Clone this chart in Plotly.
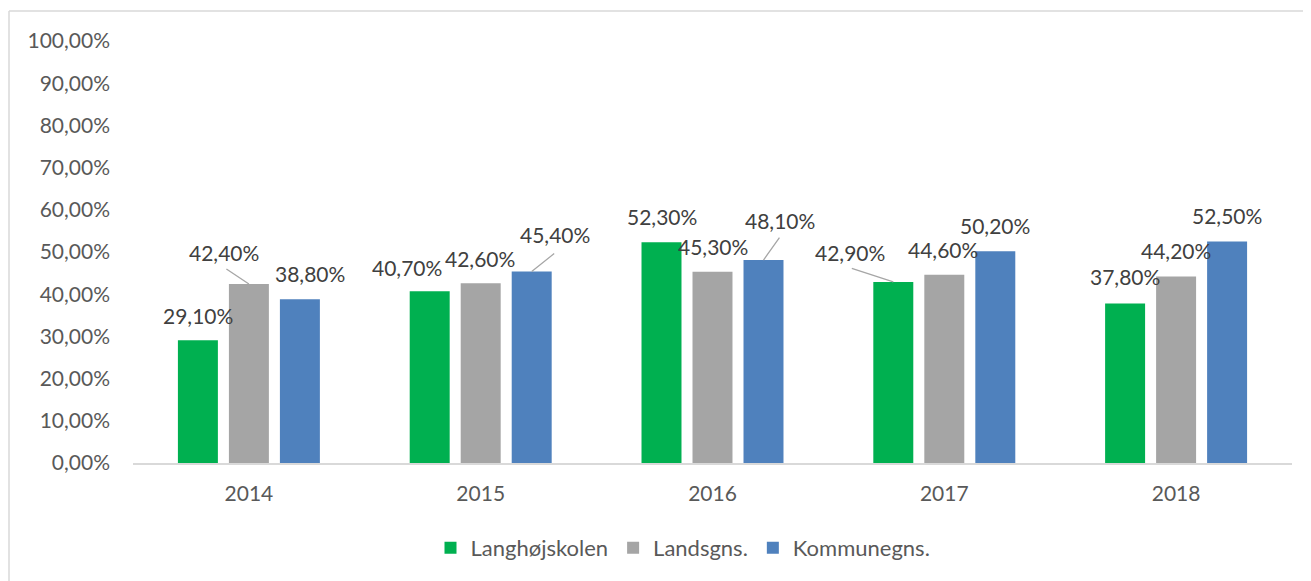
import plotly.graph_objects as go

# ---- data ----
years = ["2014", "2015", "2016", "2017", "2018"]
langhoj = [0.291, 0.407, 0.523, 0.429, 0.378]
landsgns = [0.424, 0.426, 0.453, 0.446, 0.442]
kommunegns = [0.388, 0.454, 0.481, 0.502, 0.525]
series_names = ["Langhøjskolen", "Landsgns.", "Kommunegns."]
colors = ["#00B050", "#A5A5A5", "#4F81BD"]

series = [langhoj, landsgns, kommunegns]

# ---- label placement (pixel offsets of label centre from bar top centre) ----
label_offsets = {
    (0, 0): (0, -25), (0, 1): (-25, -32), (0, 2): (10, -26),
    (1, 0): (-23, -24), (1, 1): (-1, -25), (1, 2): (23, -37),
    (2, 0): (0, -26), (2, 1): (0, -25), (2, 2): (16, -40),
    (3, 0): (-43, -29), (3, 1): (-1, -25), (3, 2): (0, -26),
    (4, 0): (0, -27), (4, 1): (0, -26), (4, 2): (0, -26),
}
# leader line start points (pixel offset from bar top centre)
leaders = {
    (0, 1): (-24, -16),
    (1, 2): (24, -19),
    (2, 2): (17, -24),
    (3, 0): (-43, -14),
}

BAR_STEP = 51  # px between bar centres within a group

fig = go.Figure()
for name, vals, col in zip(series_names, series, colors):
    fig.add_trace(go.Bar(
        x=years, y=vals, name=name,
        marker=dict(color=col, line=dict(width=0)),
        hoverinfo="skip",
    ))

FONT = "Lato, 'Open Sans', sans-serif"
annotations = []
for si, vals in enumerate(series):
    for ci, v in enumerate(vals):
        xs = (si - 1) * BAR_STEP
        dx, dy = label_offsets[(ci, si)]
        txt = f"{v*100:.2f}%".replace(".", ",")
        annotations.append(dict(
            x=ci, y=v, xref="x", yref="y",
            text=txt, showarrow=False,
            xshift=xs + dx, yshift=-dy,
            xanchor="center", yanchor="middle",
            font=dict(family=FONT, size=21, color="#404040"),
        ))
        if (ci, si) in leaders:
            lx, ly = leaders[(ci, si)]
            annotations.append(dict(
                x=ci, y=v, xref="x", yref="y",
                text="", showarrow=True, arrowhead=0,
                arrowwidth=1.3, arrowcolor="#A6A6A6",
                ax=lx, ay=ly, axref="pixel", ayref="pixel",
                xshift=xs, standoff=0, startstandoff=0,
            ))

# page body adds an 8px offset; compensate in margins
OFF = 8
W, H = 1311, 581
PL, PR, PT, PB = 133 - OFF, 19 + OFF, 41 - OFF, 118 + OFF
pw, ph = W - PL - PR, H - PT - PB
def px_x(px):
    return (px - OFF - PL) / pw
def px_y(py):
    return (H - PB - (py - OFF)) / ph

shapes = [
    dict(type="line", xref="paper", yref="paper",
         x0=px_x(9), x1=px_x(1330), y0=px_y(11), y1=px_y(11),
         line=dict(color="#D9D9D9", width=1.5)),
    dict(type="line", xref="paper", yref="paper",
         x0=px_x(9), x1=px_x(9), y0=px_y(11), y1=px_y(620),
         line=dict(color="#D9D9D9", width=1.5)),
]

fig.update_layout(
    width=W, height=H,
    margin=dict(l=PL, r=PR, t=PT, b=PB),
    paper_bgcolor="white", plot_bgcolor="white",
    separators=", ",
    barmode="group", bargap=0.34, bargroupgap=0.216,
    font=dict(family=FONT, size=21, color="#595959"),
    showlegend=True,
    legend=dict(orientation="h", x=px_x(683), xanchor="center",
                y=px_y(548), yanchor="middle",
                font=dict(family=FONT, size=22, color="#595959"),
                itemwidth=30, traceorder="normal"),
    annotations=annotations,
    shapes=shapes,
)
fig.update_xaxes(
    type="category", range=[-0.5, 4.5], autorange=False,
    showgrid=False, zeroline=False,
    showline=True, linecolor="#D9D9D9", linewidth=1.5,
    ticks="", ticklabelstandoff=11,
    tickfont=dict(family=FONT, size=21, color="#595959"),
)
fig.update_yaxes(
    range=[0, 1], autorange=False, dtick=0.1, tickformat=".2%",
    showgrid=False, zeroline=False, showline=False,
    ticks="", ticklabelstandoff=22,
    tickfont=dict(family=FONT, size=21, color="#595959"),
)

fig.write_html("out.html")
